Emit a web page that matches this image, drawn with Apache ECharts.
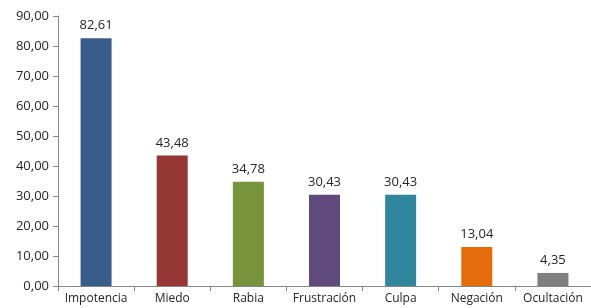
<!DOCTYPE html>
<html>
<head>
<meta charset="utf-8">
<script src="https://cdn.jsdelivr.net/npm/echarts@6/dist/echarts.min.js"></script>
<style>
  html, body { margin: 0; padding: 0; background: #fff; }
  #chart { width: 591px; height: 308px; }
</style>
</head>
<body>
<div id="chart"></div>
<script>
const categories = ['Impotencia', 'Miedo', 'Rabia', 'Frustración', 'Culpa', 'Negación', 'Ocultación']
const values = [82.61, 43.48, 34.78, 30.43, 30.43, 13.04, 4.35]
const barColors = ['#385d8a', '#953735', '#77933c', '#604a7b', '#31859c', '#e46c0a', '#7f7f7f']

const fmt = v => v.toFixed(2).replace('.', ',')

const chart = echarts.init(document.getElementById('chart'))
const option = {
  animation: false,
  textStyle: { fontFamily: '"Open Sans", sans-serif' },
  grid: { left: 58, right: -6, top: 16, bottom: 22 },
  xAxis: {
    type: 'category',
    data: categories,
    axisLine: { lineStyle: { color: '#868686' } },
    axisTick: { show: true, length: 5, lineStyle: { color: '#868686' } },
    axisLabel: { color: '#262626', fontSize: 12, margin: 7, interval: 0 }
  },
  yAxis: {
    type: 'value',
    min: 0,
    max: 90,
    interval: 10,
    splitLine: { show: false },
    axisLine: { show: true, lineStyle: { color: '#868686' } },
    axisTick: { show: true, length: 5, lineStyle: { color: '#868686' } },
    axisLabel: { color: '#262626', fontSize: 13, margin: 9, formatter: v => fmt(v) }
  },
  series: [{
    type: 'bar',
    barWidth: 31,
    data: values.map((v, i) => ({ value: v, itemStyle: { color: barColors[i] } })),
    label: {
      show: true,
      position: 'top',
      distance: 6,
      color: '#262626',
      fontSize: 13,
      formatter: p => fmt(p.value)
    }
  }]
}
chart.setOption(option)
</script>
</body>
</html>
